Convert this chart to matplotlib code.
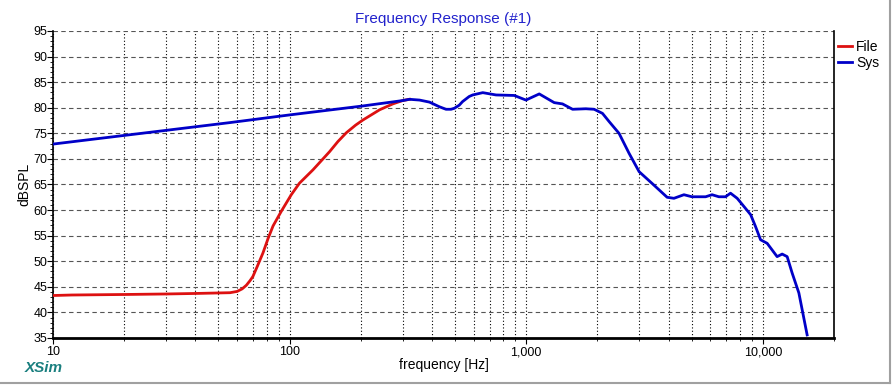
import matplotlib.pyplot as plt
from matplotlib.ticker import FixedLocator, MultipleLocator, NullFormatter

# Sys curve (blue)
sys_freq = [10, 56, 100, 204, 300, 321, 354, 390, 429, 458, 481, 497, 521, 538,
            574, 594, 655, 745, 890, 997, 1135, 1313, 1423, 1570, 1787, 1936,
            2100, 2240, 2467, 2720, 3000, 3405, 3940, 4210, 4640, 5015, 5730,
            6100, 6520, 6955, 7300, 7790, 8320, 8880, 9310, 9780, 10430, 11490,
            12070, 12670, 13300, 14200, 15390]
sys_db = [72.9, 77.1, 78.6, 80.35, 81.4, 81.65, 81.5, 81.1, 80.2, 79.7, 79.7,
          79.9, 80.5, 81.2, 82.2, 82.5, 82.95, 82.5, 82.4, 81.5, 82.7, 81.0,
          80.75, 79.7, 79.8, 79.7, 78.9, 77.3, 75.0, 71.1, 67.5, 65.2, 62.5,
          62.3, 63.0, 62.6, 62.6, 63.0, 62.6, 62.6, 63.3, 62.3, 60.7, 59.1,
          56.8, 54.2, 53.5, 50.9, 51.4, 50.9, 47.7, 43.8, 35.6]

# File curve (red), hidden under Sys above ~320 Hz
file_freq = [10, 12, 20, 30, 40, 50, 56, 60, 63, 65.6, 68, 69.9, 73, 77.1, 81,
             85.1, 92.3, 101.6, 110, 125.4, 147.4, 160, 173.5, 190, 204, 240,
             273, 300, 321]
file_db = [43.3, 43.4, 43.5, 43.6, 43.7, 43.8, 43.85, 44.1, 44.6, 45.3, 46.2,
           47.0, 49.0, 51.6, 54.4, 56.9, 59.8, 63.0, 65.25, 67.85, 71.4, 73.4,
           75.1, 76.6, 77.6, 79.6, 80.75, 81.4, 81.65]

x_ticks = [10, 100, 1000, 10000]
x_labels = ["10", "100", "1,000", "10,000"]
y_ticks = [35, 40, 45, 50, 55, 60, 65, 70, 75, 80, 85, 90, 95]

plt.rcParams['font.family'] = ['Liberation Sans', 'DejaVu Sans']

fig = plt.figure(figsize=(8.93, 3.86), dpi=100)
fig.patch.set_facecolor("white")
ax = fig.add_axes([0.0594, 0.1244, 0.8746, 0.7953])

ax.set_xscale("log")
ax.set_xlim(10, 20000)
ax.set_ylim(35, 95)

# grid: dotted verticals, dashed horizontals
minor_x = []
for dec in [10, 100, 1000, 10000]:
    for m in range(1, 10):
        v = dec * m
        if v <= 20000:
            minor_x.append(v)
for v in minor_x:
    ax.axvline(v, color="black", linestyle=(0, (1, 2)), linewidth=0.8, zorder=1)
for v in y_ticks[1:]:
    ax.axhline(v, color="#555555", linestyle=(0, (4, 3)), linewidth=0.8, zorder=1)

ax.plot(file_freq, file_db, color="#dd1111", linewidth=2, label="File", zorder=3)
ax.plot(sys_freq, sys_db, color="#0000c8", linewidth=2, label="Sys", zorder=4)

ax.xaxis.set_major_locator(FixedLocator(x_ticks))
ax.set_xticklabels(x_labels)
ax.xaxis.set_minor_locator(FixedLocator(minor_x))
ax.xaxis.set_minor_formatter(NullFormatter())
ax.set_yticks(y_ticks)
ax.yaxis.set_minor_locator(MultipleLocator(1))
ax.tick_params(axis="both", which="major", labelsize=9, length=4, color="black")
ax.tick_params(axis="y", which="major", pad=0)
ax.tick_params(axis="x", which="major", pad=2)
ax.tick_params(axis="both", which="minor", length=2)

ax.spines["top"].set_visible(False)
ax.spines["left"].set_linewidth(1.2)
ax.spines["right"].set_linewidth(1.2)
ax.spines["bottom"].set_linewidth(2)

ax.set_xlabel("frequency [Hz]", fontsize=10, labelpad=0)
ax.set_ylabel("dBSPL", fontsize=10)
ax.yaxis.set_label_coords(-0.028, 0.5)
ax.set_title("Frequency Response (#1)", color="#2222cc", fontsize=11, pad=6)

ax.legend(loc="upper left", bbox_to_anchor=(0.998, 0.99), frameon=False,
          handlelength=1.0, handletextpad=0.3, fontsize=10, labelspacing=0.15,
          borderaxespad=0)

fig.text(0.028, 0.035, "XSim", color="#1a7f7f", fontsize=11,
         fontweight="bold", style="italic")

# grey frame edge at right and bottom
fig.add_artist(plt.Line2D([0, 0.997], [0.008, 0.008], color="#a0a0a0",
                          linewidth=1.5, transform=fig.transFigure))
fig.add_artist(plt.Line2D([0.997, 0.997], [0.008, 1], color="#a0a0a0",
                          linewidth=1.5, transform=fig.transFigure))

fig.savefig("out.png", dpi=100)
